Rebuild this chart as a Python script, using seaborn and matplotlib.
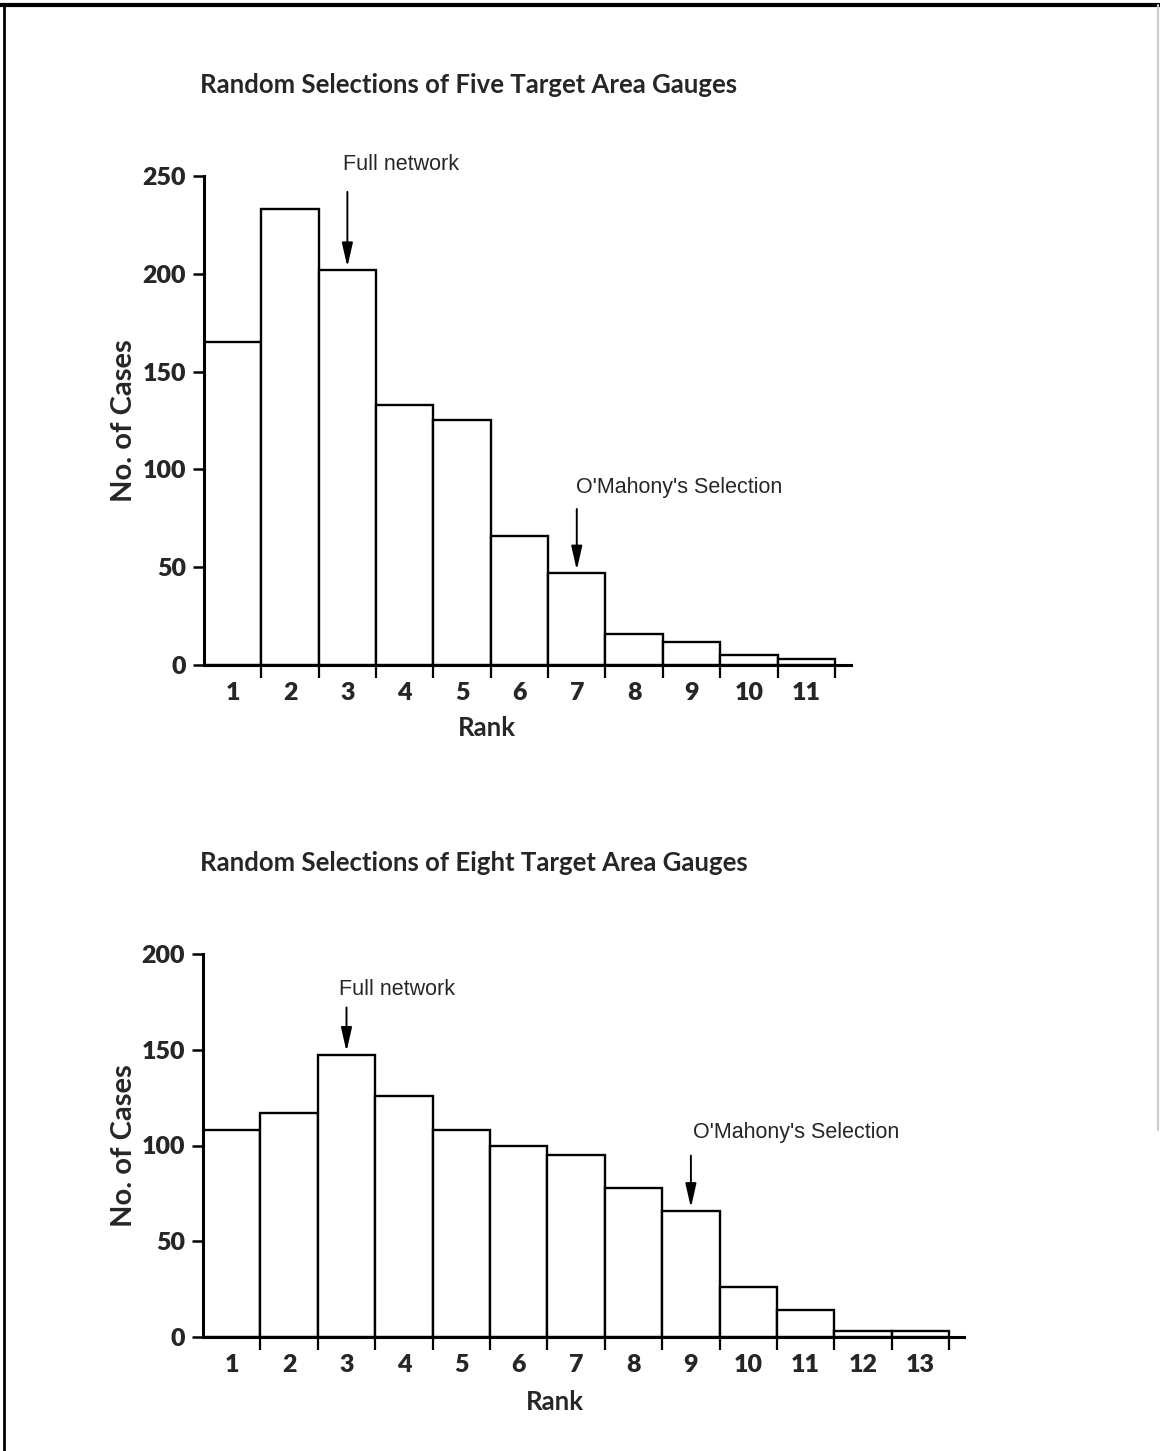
import matplotlib
matplotlib.use("Agg")
import matplotlib.pyplot as plt
import pandas as pd
import seaborn as sns
from matplotlib.lines import Line2D

# ---------------- data ----------------
title_five = "Random Selections of Five Target Area Gauges"
ranks_five = [1, 2, 3, 4, 5, 6, 7, 8, 9, 10, 11]
cases_five = [165, 233, 202, 133, 125, 66, 47, 16, 12, 5, 3]
yticks_five = [0, 50, 100, 150, 200, 250]

title_eight = "Random Selections of Eight Target Area Gauges"
ranks_eight = [1, 2, 3, 4, 5, 6, 7, 8, 9, 10, 11, 12, 13]
cases_eight = [108, 117, 147, 126, 108, 100, 95, 78, 66, 26, 14, 3, 3]
yticks_eight = [0, 50, 100, 150, 200]

full_label = "Full network"
omahony_label = "O'Mahony's Selection"
full_rank_five, omahony_rank_five = 3, 7
full_rank_eight, omahony_rank_eight = 3, 9

# ---------------- style ----------------
sns.set_style("ticks")
plt.rcParams["font.family"] = ["Lato", "DejaVu Sans"]
plt.rcParams["font.weight"] = "bold"
NARROW = ["Liberation Sans Narrow", "Liberation Sans", "DejaVu Sans"]

W, H = 1160, 1451
fig = plt.figure(figsize=(W / 100, H / 100), dpi=100)
fig.patch.set_facecolor("white")


def px_axes(left, right, top, bottom):
    return fig.add_axes([left / W, 1 - bottom / H, (right - left) / W, (bottom - top) / H])


def px2pt(v):
    return v * 72.0 / 100.0


def draw(ax, ranks, cases, yticks, xmax, label_y):
    df = pd.DataFrame({"Rank": ranks, "Cases": cases})
    sns.barplot(data=df, x="Rank", y="Cases", native_scale=True, width=1,
                color="white", saturation=1, edgecolor="black", linewidth=1.7,
                errorbar=None, ax=ax)
    ax.set_xlim(0.5, xmax)
    ax.set_ylim(yticks[0], yticks[-1])
    for s in ("top", "right"):
        ax.spines[s].set_visible(False)
    for s in ("left", "bottom"):
        ax.spines[s].set_linewidth(2.2)
        ax.spines[s].set_color("black")
    ax.set_xticks(ranks)
    ax.set_xticklabels([str(r) for r in ranks])
    ax.set_xticks([r + 0.5 for r in ranks], minor=True)
    ax.tick_params(axis="x", which="major", length=0, pad=12, labelsize=18)
    ax.tick_params(axis="x", which="minor", length=9, width=1.6, direction="out", color="black")
    ax.set_yticks(yticks)
    ax.set_yticklabels([str(v) for v in yticks])
    ax.tick_params(axis="y", which="major", length=8, width=1.8, direction="out",
                   pad=5, labelsize=18, color="black")
    for lbl in ax.get_xticklabels() + ax.get_yticklabels():
        lbl.set_fontweight("heavy")
    ax.set_xlabel("")
    ax.set_ylabel("No. of Cases", fontsize=21, fontweight="bold", labelpad=0)
    ax.yaxis.set_label_coords(label_y[0], 0.5)
    ax.text(label_y[1], label_y[2], "Rank", transform=ax.transAxes, ha="center",
            va="center", fontsize=18.5, fontweight="bold")
    ax.set_facecolor("none")


def mark(ax, ranks, cases, rank, text, dx, dy, start, gap):
    h = cases[ranks.index(rank)]
    ax.annotate("", xy=(rank, h), xycoords="data",
                xytext=(0, px2pt(start)), textcoords="offset points",
                arrowprops=dict(arrowstyle="-|>,head_length=1.45,head_width=0.33",
                                mutation_scale=10, color="black", lw=1.4,
                                shrinkA=0, shrinkB=px2pt(gap)),
                annotation_clip=False)
    ax.annotate(text, xy=(rank, h), xycoords="data",
                xytext=(px2pt(dx), px2pt(dy)), textcoords="offset points",
                ha="left", va="center", fontsize=15.5, fontweight="normal",
                family=NARROW, annotation_clip=False)


ax1 = px_axes(204, 851, 176, 665)
draw(ax1, ranks_five, cases_five, yticks_five, 0.5 + (851 - 204) / 57.35,
     ((137 - 204) / 647, (487 - 204) / 647, (665 - 728) / 489))
mark(ax1, ranks_five, cases_five, full_rank_five, full_label, -4, 105, 78, 3)
mark(ax1, ranks_five, cases_five, omahony_rank_five, omahony_label, -1, 86, 64, 3)

ax2 = px_axes(203, 964, 954, 1337)
draw(ax2, ranks_eight, cases_eight, yticks_eight, 0.5 + (964 - 203) / 57.4,
     ((137 - 203) / 761, (555 - 203) / 761, (1337 - 1402) / 383))
mark(ax2, ranks_eight, cases_eight, full_rank_eight, full_label, -7.5, 66, 48, 4)
mark(ax2, ranks_eight, cases_eight, omahony_rank_eight, omahony_label, 1.7, 78, 55, 3)

fig.text(200 / W, 1 - 85 / H, title_five, ha="left", va="center", fontsize=18.5, fontweight="bold")
fig.text(200 / W, 1 - 863 / H, title_eight, ha="left", va="center", fontsize=18.5, fontweight="bold")

# page frame
fig.add_artist(Line2D([0, 1], [1 - 5 / H, 1 - 5 / H], transform=fig.transFigure, color="black", lw=3))
fig.add_artist(Line2D([4 / W, 4 / W], [0, 1 - 5 / H], transform=fig.transFigure, color="black", lw=2))
fig.add_artist(Line2D([1158 / W, 1158 / W], [1 - 1130 / H, 1 - 5 / H], transform=fig.transFigure,
                      color="#cccccc", lw=1.5))

fig.savefig("out.png", dpi=100, facecolor="white")
